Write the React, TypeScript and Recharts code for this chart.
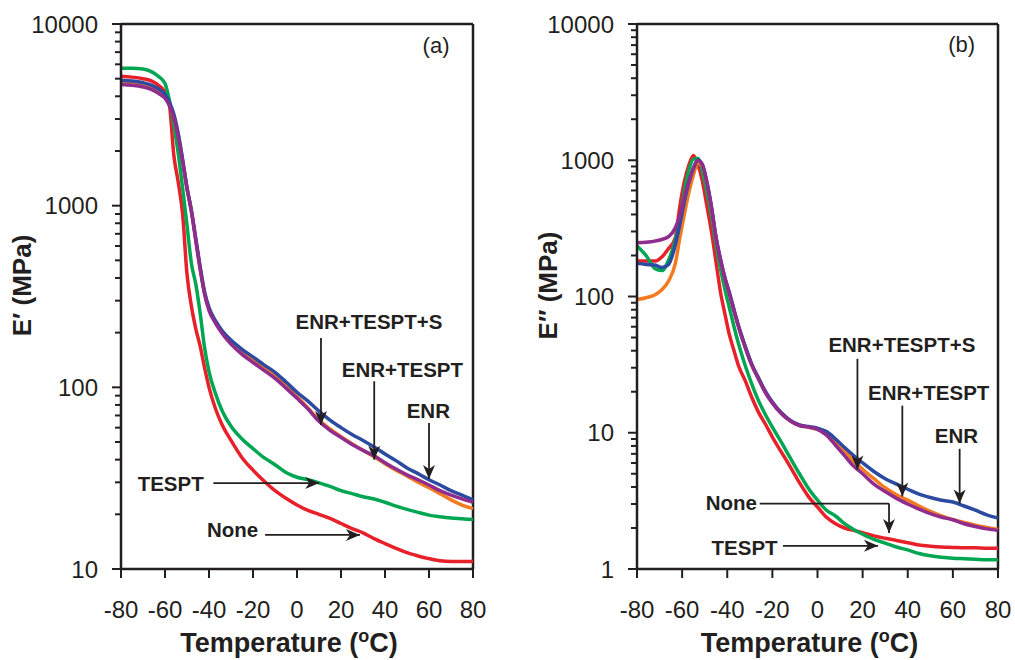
import { LineChart, Line, XAxis, YAxis, ReferenceLine, ReferenceDot } from 'recharts';

const INK = '#231f20';
const FONT = '"Liberation Sans", Arial, Helvetica, sans-serif';

// temperature ticks, shared by both panels
const tempTicks = [-80, -60, -40, -20, 0, 20, 40, 60, 80];

// (a) storage modulus E' (MPa)
const tempsA = [-80, -75, -70, -66, -63, -60, -58, -56, -54, -52, -50, -48, -46, -44, -42, -40, -37, -34, -30, -25, -20, -15, -10, -5, 0, 5, 10, 15, 20, 25, 30, 35, 40, 45, 50, 55, 60, 65, 70, 75, 80];
const noneA = [5150, 5100, 5000, 4850, 4600, 4200, 3600, 1900, 1350, 900, 420, 280, 210, 168, 128, 100, 76, 62, 51, 41, 35, 30.5, 27, 24.5, 22.5, 21, 20, 19, 17.8, 16.7, 15.8, 14.7, 13.8, 13, 12.3, 11.8, 11.4, 11.1, 11, 11, 11];
const tesptA = [5700, 5700, 5650, 5450, 5150, 4700, 3800, 2800, 1950, 1250, 780, 480, 370, 255, 165, 122, 92, 74, 61, 52, 46, 41, 37.5, 34, 32, 31, 29.8, 28.5, 27, 26, 25, 24.3, 23.3, 22.2, 21.3, 20.5, 19.8, 19.4, 19.1, 18.9, 18.7];
const enrTesptA = [4800, 4750, 4650, 4500, 4300, 4000, 3600, 3100, 2450, 1780, 1250, 935, 650, 452, 330, 270, 228, 201, 176, 156, 141, 128, 116, 102, 89, 77, 66, 59, 53.5, 49, 45, 41.5, 38, 35, 32.5, 30, 28, 26, 24, 22.5, 21.5];
const enrA = [4900, 4850, 4750, 4600, 4400, 4100, 3700, 3200, 2500, 1800, 1260, 940, 660, 460, 335, 275, 232, 205, 182, 162, 147, 133, 121, 107, 94, 84, 74, 66, 60, 55, 51, 47, 43, 39.5, 36, 33.5, 31, 29, 27, 25.5, 24];
const enrTesptSA = [4650, 4600, 4500, 4350, 4150, 3900, 3550, 3050, 2400, 1750, 1240, 930, 640, 445, 325, 265, 225, 198, 173, 152, 137, 124, 112, 99, 87, 76, 65, 58, 53, 48.5, 45, 42, 38.5, 35.5, 33, 31, 29, 27, 25.5, 24.3, 23.3];

// (b) loss modulus E'' (MPa)
const tempsB = [-80, -76, -72, -69, -66, -63, -61, -59, -57, -55, -53, -51, -49, -47, -45, -43, -41, -39, -37, -35, -32, -29, -26, -23, -20, -16, -12, -8, -4, 0, 4, 8, 12, 16, 20, 25, 30, 35, 40, 45, 50, 55, 60, 65, 70, 75, 80];
const noneB = [182, 182, 182, 195, 225, 270, 460, 700, 920, 1085, 930, 700, 460, 300, 180, 108, 74, 52, 40, 31, 24, 18, 14, 11.5, 9.3, 7.2, 5.6, 4.3, 3.4, 2.85, 2.4, 2.15, 2.0, 1.92, 1.85, 1.75, 1.68, 1.62, 1.56, 1.5, 1.47, 1.45, 1.44, 1.43, 1.43, 1.42, 1.42];
const tesptB = [235, 200, 160, 155, 185, 260, 360, 600, 850, 1020, 1030, 820, 580, 390, 240, 160, 112, 82, 60, 45, 31, 22.5, 17, 13.5, 11, 8.5, 6.5, 5.0, 3.9, 3.2, 2.7, 2.45, 2.15, 1.95, 1.8, 1.65, 1.55, 1.45, 1.38, 1.3, 1.25, 1.22, 1.2, 1.19, 1.18, 1.17, 1.17];
const enrTesptB = [95, 98, 103, 112, 130, 175, 270, 400, 580, 780, 960, 900, 670, 445, 268, 185, 135, 104, 79, 60, 42.5, 31, 24.8, 19.8, 16.6, 13.9, 12.2, 11.3, 11, 10.6, 10, 8.7, 7.4, 6.2, 5.4, 4.6, 3.95, 3.5, 3.2, 2.9, 2.65, 2.45, 2.3, 2.2, 2.1, 2.02, 1.95];
const enrB = [175, 172, 170, 163, 172, 240, 340, 500, 690, 870, 1000, 930, 690, 455, 275, 188, 137, 106, 80, 61, 43, 31.5, 25, 20, 16.8, 14, 12.3, 11.4, 11.1, 10.8, 10.2, 9.0, 7.8, 6.8, 6.0, 5.2, 4.6, 4.2, 3.85, 3.55, 3.35, 3.2, 3.1, 2.9, 2.7, 2.5, 2.37];
const enrTesptSB = [248, 250, 255, 262, 275, 320, 395, 540, 700, 880, 1000, 920, 680, 450, 270, 185, 135, 104, 78, 60, 42, 31, 24.5, 19.5, 16.5, 13.8, 12.2, 11.3, 11, 10.6, 9.6, 8.1, 6.8, 5.7, 5.0, 4.2, 3.7, 3.3, 3.0, 2.75, 2.55, 2.4, 2.3, 2.15, 2.05, 1.97, 1.92];

const majorsA = [10, 100, 1000, 10000];
const majorsB = [1, 10, 100, 1000, 10000];

// callouts, in data units
const notesA = [
  { text: '(a)', x: 63.2, y: 7650, bold: false, size: 22 },
  { text: 'ENR+TESPT+S', x: 32.7, y: 229, bold: true, size: 20.5 },
  { text: 'ENR+TESPT', x: 47.9, y: 126, bold: true, size: 20.5 },
  { text: 'ENR', x: 59.7, y: 75, bold: true, size: 20.5 },
  { text: 'TESPT', x: -57.4, y: 29.7, bold: true, size: 20.5 },
  { text: 'None', x: -29.3, y: 16.6, bold: true, size: 20.5 },
];
const arrowsA = [
  { x1: 10.9, y1: 187, x2: 10.9, y2: 62, head: 'down' },
  { x1: 35.1, y1: 108, x2: 35.1, y2: 40, head: 'down' },
  { x1: 60, y1: 63.6, x2: 60, y2: 31.3, head: 'down' },
  { x1: -38, y1: 29.7, x2: 10.1, y2: 29.7, head: 'right' },
  { x1: -14.5, y1: 15.4, x2: 28.6, y2: 15.4, head: 'right' },
];
const notesB = [
  { text: '(b)', x: 63.9, y: 7115, bold: false, size: 22 },
  { text: 'ENR+TESPT+S', x: 37.4, y: 44.5, bold: true, size: 20.5 },
  { text: 'ENR+TESPT', x: 49.3, y: 19.6, bold: true, size: 20.5 },
  { text: 'ENR', x: 61.6, y: 9.54, bold: true, size: 20.5 },
  { text: 'None', x: -38.2, y: 3.1, bold: true, size: 20.5 },
  { text: 'TESPT', x: -32.3, y: 1.45, bold: true, size: 20.5 },
];
const arrowsB = [
  { x1: 17.7, y1: 34.9, x2: 17.7, y2: 5.37, head: 'down' },
  { x1: 37.6, y1: 15.8, x2: 37.6, y2: 3.41, head: 'down' },
  { x1: 63, y1: 7.62, x2: 63, y2: 3.02, head: 'down' },
  { x1: -25.6, y1: 3.02, x2: 31.7, y2: 3.02, head: null },
  { x1: 31.7, y1: 3.02, x2: 31.7, y2: 1.84, head: 'down' },
  { x1: -15.3, y1: 1.48, x2: 26.8, y2: 1.48, head: 'right' },
];

const minorTicks = (lo: number, hi: number) => {
  const out: number[] = [];
  for (let d = lo; d < hi; d *= 10) for (let m = 1; m < 10; m++) out.push(m * d);
  out.push(hi);
  return out;
};

const xTick = (p: any) => (
  <g>
    <line x1={p.x} x2={p.x} y1={p.y} y2={p.y + 9} stroke={INK} strokeWidth={2} />
    <text x={p.x} y={p.y + 40} textAnchor="middle" dominantBaseline="central" fontFamily={FONT} fontSize={24} fill={INK}>
      {p.payload.value}
    </text>
  </g>
);

const yTick = (majors: number[]) => (p: any) => {
  const v = p.payload.value;
  const major = majors.includes(v);
  return (
    <g>
      <line x1={p.x - (major ? 9 : 6)} x2={p.x} y1={p.y} y2={p.y} stroke={INK} strokeWidth={2} />
      {major && (
        <text x={p.x - 23} y={p.y} textAnchor="end" dominantBaseline="central" fontFamily={FONT} fontSize={24} fill={INK}>
          {v}
        </text>
      )}
    </g>
  );
};

const noteShape = (n: any) => (p: any) => (
  <text x={p.cx} y={p.cy} textAnchor="middle" dominantBaseline="central" fontFamily={FONT}
    fontWeight={n.bold ? 700 : 400} fontSize={n.size} fill={INK}>
    {n.text}
  </text>
);

const headShape = (dir: string) => (p: any) => {
  const { cx, cy } = p;
  const pts = dir === 'down'
    ? `${cx},${cy} ${cx - 6},${cy - 14} ${cx},${cy - 10} ${cx + 6},${cy - 14}`
    : `${cx},${cy} ${cx - 14},${cy - 6} ${cx - 10},${cy} ${cx - 14},${cy + 6}`;
  return <polygon points={pts} fill={INK} />;
};

function Panel(props: any) {
  const { left, width, temps, series, yDomain, majors, notes, arrows, yTitle, titleDx } = props;
  const data = temps.map((t: number, i: number) => {
    const row: any = { t };
    series.forEach((s: any) => { row[s.key] = s.values[i]; });
    return row;
  });
  return (
    <div style={{ position: 'absolute', left, top: 0 }}>
      <LineChart width={width} height={660} data={data} margin={{ top: 24, right: 17, bottom: 0, left: 0 }}>
        <XAxis type="number" dataKey="t" domain={[-80, 80]} ticks={tempTicks} interval={0}
          tickSize={0} tickMargin={0} tickLine={false} height={91}
          axisLine={{ stroke: INK, strokeWidth: 2.5 }} tick={xTick}
          label={(p: any) => {
            const vb = p.viewBox;
            return (
              <text x={vb.x + vb.width / 2 - 8} y={vb.y + 83} textAnchor="middle" fontFamily={FONT}
                fontWeight={700} fontSize={27} fill={INK}>
                Temperature (<tspan dy={-10} fontSize={18}>o</tspan><tspan dy={10}>C)</tspan>
              </text>
            );
          }} />
        <YAxis type="number" scale="log" domain={yDomain} ticks={minorTicks(yDomain[0], yDomain[1])} interval={0}
          width={121} tickSize={0} tickMargin={0} tickLine={false}
          axisLine={{ stroke: INK, strokeWidth: 2.5 }} tick={yTick(majors)}
          label={(p: any) => {
            const vb = p.viewBox;
            return (
              <text transform={`translate(${vb.x + titleDx}, ${vb.y + vb.height / 2 - 11}) rotate(-90)`}
                textAnchor="middle" dominantBaseline="central" fontFamily={FONT} fontWeight={700} fontSize={26} fill={INK}>
                {yTitle}
              </text>
            );
          }} />
        <ReferenceLine y={yDomain[1]} stroke={INK} strokeWidth={2.5} ifOverflow="visible" />
        <ReferenceLine x={80} stroke={INK} strokeWidth={2.5} ifOverflow="visible" />
        {series.map((s: any) => (
          <Line key={s.key} type="monotone" dataKey={s.key} stroke={s.color} strokeWidth={3.5}
            dot={false} isAnimationActive={false} />
        ))}
        {arrows.map((a: any, i: number) => (
          <ReferenceLine key={`s${i}`} segment={[{ x: a.x1, y: a.y1 }, { x: a.x2, y: a.y2 }]}
            stroke={INK} strokeWidth={1.8} ifOverflow="visible" />
        ))}
        {arrows.filter((a: any) => a.head).map((a: any, i: number) => (
          <ReferenceDot key={`h${i}`} x={a.x2} y={a.y2} shape={headShape(a.head)} ifOverflow="visible" />
        ))}
        {notes.map((n: any, i: number) => (
          <ReferenceDot key={`n${i}`} x={n.x} y={n.y} shape={noteShape(n)} ifOverflow="visible" />
        ))}
      </LineChart>
    </div>
  );
}

const RED = '#e8202a';
const GREEN = '#00a651';
const ORANGE = '#f47a20';
const BLUE = '#2b4aa0';
const PURPLE = '#8f2c8e';

export default function App() {
  const seriesA = [
    { key: 'none', color: RED, values: noneA },
    { key: 'tespt', color: GREEN, values: tesptA },
    { key: 'enrTespt', color: ORANGE, values: enrTesptA },
    { key: 'enr', color: BLUE, values: enrA },
    { key: 'enrTesptS', color: PURPLE, values: enrTesptSA },
  ];
  const seriesB = [
    { key: 'none', color: RED, values: noneB },
    { key: 'tespt', color: GREEN, values: tesptB },
    { key: 'enrTespt', color: ORANGE, values: enrTesptB },
    { key: 'enr', color: BLUE, values: enrB },
    { key: 'enrTesptS', color: PURPLE, values: enrTesptSB },
  ];
  return (
    <div style={{ position: 'absolute', left: 0, top: 0, width: 1015, height: 660, background: '#fff', overflow: 'hidden' }}>
      <Panel left={0} width={490} temps={tempsA} series={seriesA} yDomain={[10, 10000]} majors={majorsA}
        notes={notesA} arrows={arrowsA} yTitle="E′ (MPa)" titleDx={22} />
      <Panel left={516} width={499} temps={tempsB} series={seriesB} yDomain={[1, 10000]} majors={majorsB}
        notes={notesB} arrows={arrowsB} yTitle="E″ (MPa)" titleDx={32} />
    </div>
  );
}
